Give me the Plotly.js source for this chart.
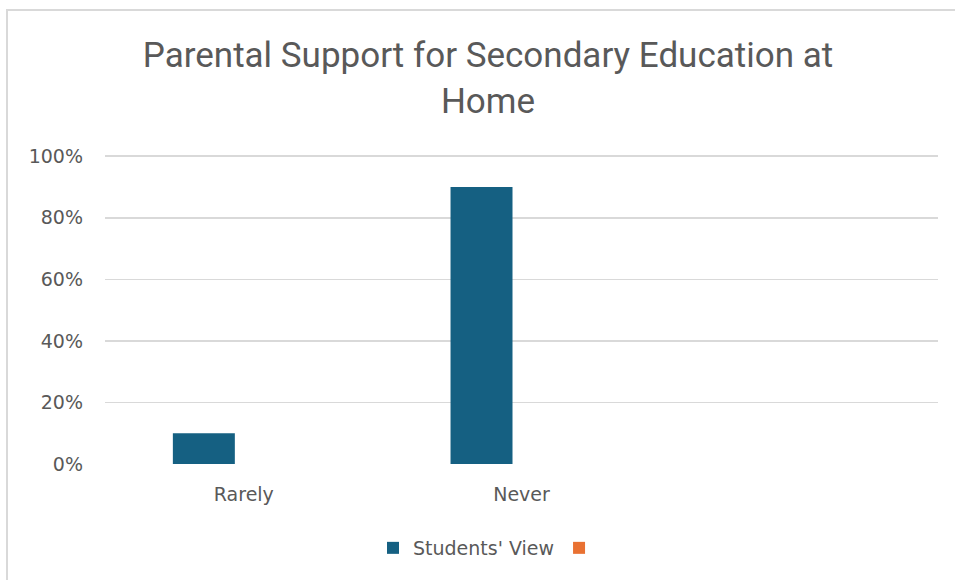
<!DOCTYPE html>
<html>
<head>
<meta charset="utf-8">
<script src="https://cdn.plot.ly/plotly-3.0.1.min.js"></script>
<style>
  html, body { margin: 0; padding: 0; background: #ffffff; }
  #frame { position: absolute; left: 6px; top: 9px; width: 960px; height: 580px;
           border-top: 2px solid #d9d9d9; border-left: 2px solid #d9d9d9; }
  #chart { position: absolute; left: 0; top: 0; width: 955px; height: 580px; }
</style>
</head>
<body>
<div id="frame"></div>
<div id="chart"></div>
<script>
// Data
const categories = ["Rarely", "Never"];
const studentsView = [0.10, 0.90];
const secondSeries = [null, null];
const seriesNames = ["Students' View", ""];
const yTickVals = [0, 0.2, 0.4, 0.6, 0.8, 1.0];
const yTickText = ["0%", "20%", "40%", "60%", "80%", "100%"];

const textColor = "#595959";
const tickFont = { family: "DejaVu Sans", size: 19, color: textColor };

const traces = [
  { type: "bar", x: categories, y: studentsView, name: seriesNames[0],
    marker: { color: "#156082" }, hoverinfo: "x+y" },
  { type: "bar", x: categories, y: secondSeries, name: seriesNames[1],
    marker: { color: "#E97132" }, hoverinfo: "x+y" }
];

const layout = {
  width: 955, height: 580,
  paper_bgcolor: "rgba(0,0,0,0)",
  plot_bgcolor: "rgba(0,0,0,0)",
  margin: { l: 105, r: 17, t: 155, b: 116 },
  title: {
    text: "Parental Support for Secondary Education at<br>Home",
    font: { family: "Roboto", size: 35, color: textColor },
    xref: "container", x: 488 / 955, xanchor: "center",
    yref: "container", y: 1 - 67 / 580, yanchor: "top"
  },
  barmode: "group",
  bargap: 0.424,
  bargroupgap: 0.225,
  showlegend: true,
  legend: {
    orientation: "h",
    xref: "container", x: 489 / 955, xanchor: "center",
    yref: "container", y: 1 - 548 / 580, yanchor: "middle",
    font: tickFont,
    traceorder: "normal"
  },
  xaxis: {
    type: "category",
    range: [-0.5, 2.5],
    showgrid: false, zeroline: false, showline: false,
    ticks: "",
    tickfont: tickFont,
    ticklabelstandoff: 17
  },
  yaxis: {
    range: [0, 1.004],
    tickvals: yTickVals, ticktext: yTickText,
    showgrid: true, gridcolor: "#d9d9d9", gridwidth: 1.5,
    zeroline: false, showline: false, ticks: "",
    tickfont: tickFont,
    ticklabelstandoff: 21
  }
};

Plotly.newPlot("chart", traces, layout, { displayModeBar: false, staticPlot: true });
</script>
</body>
</html>
